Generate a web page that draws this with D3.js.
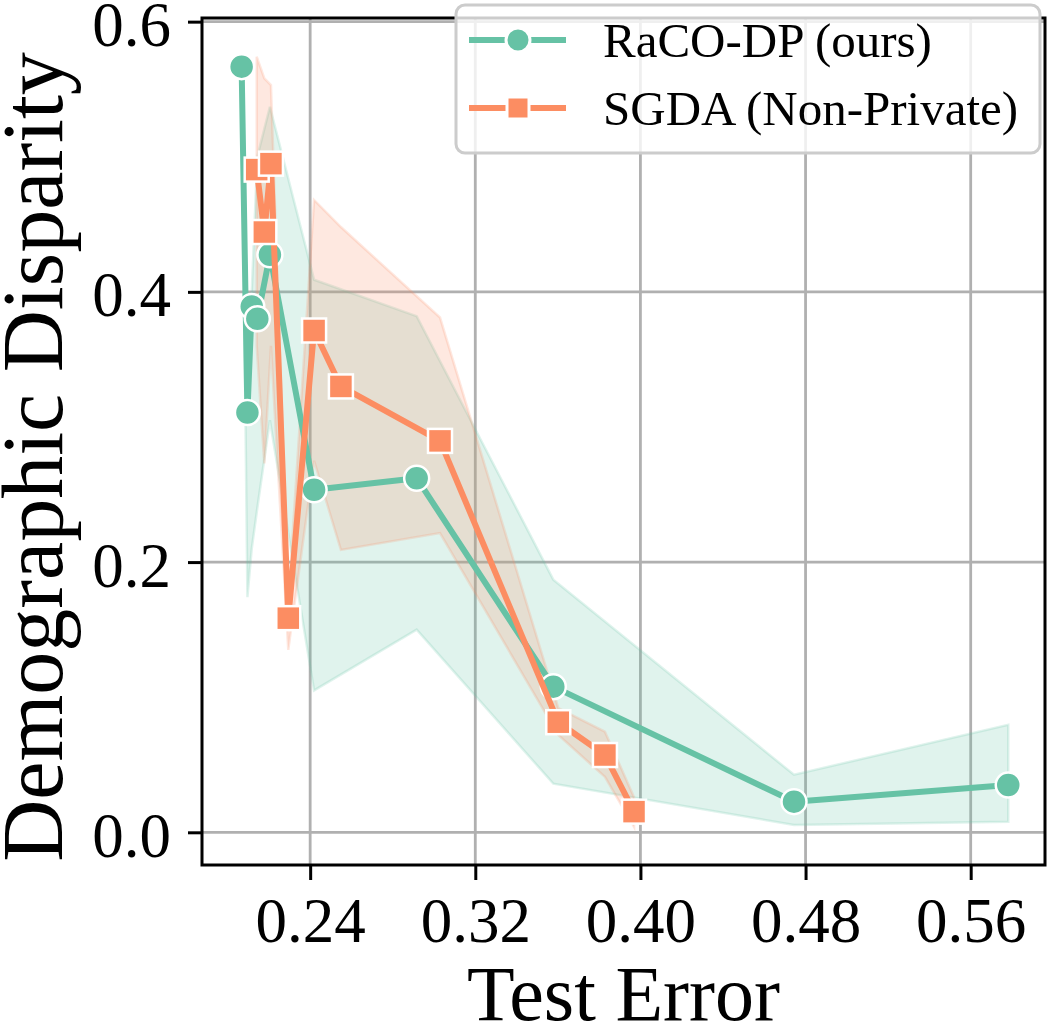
<!DOCTYPE html>
<html>
<head>
<meta charset="utf-8">
<script src="https://cdn.jsdelivr.net/npm/d3@7"></script>
<style>
  body { margin: 0; background: #fff; }
  svg { display: block; }
</style>
</head>
<body>
<svg id="chart"></svg>
<script>
// chart values
const xTicks = [0.24, 0.32, 0.40, 0.48, 0.56];
const yTicks = [0.0, 0.2, 0.4, 0.6];

// RaCO-DP (ours)
const racoX  = [0.2068, 0.2096, 0.2117, 0.2144, 0.2205, 0.2419, 0.2916, 0.3578, 0.4744, 0.5782];
const racoY  = [0.5667, 0.3107, 0.3892, 0.3801, 0.4275, 0.2535, 0.2621, 0.1078, 0.0227, 0.0350];
const racoLo = [0.5667, 0.174, 0.21, 0.240, 0.305, 0.105, 0.150, 0.036, 0.0054, 0.0078];
const racoHi = [0.5667, 0.31, 0.40, 0.50, 0.537, 0.409, 0.382, 0.187, 0.0426, 0.0796];

// SGDA (Non-Private)
const sgdaX  = [0.2141, 0.2178, 0.2210, 0.2294, 0.2419, 0.2549, 0.3029, 0.3602, 0.3828, 0.3969];
const sgdaY  = [0.4905, 0.4443, 0.4949, 0.1585, 0.3714, 0.3300, 0.2897, 0.0815, 0.0572, 0.0153];
const sgdaLo = [0.36, 0.273, 0.36, 0.135, 0.275, 0.209, 0.2215, 0.072, 0.041, 0.004];
const sgdaHi = [0.574, 0.558, 0.553, 0.17, 0.468, 0.448, 0.381, 0.092, 0.0745, 0.026];

const seriesNames = ["RaCO-DP (ours)", "SGDA (Non-Private)"];
const colors = ["#66c2a5", "#fc8d62"];

const width = 1049, height = 1030;
const plotLeft = 202, plotRight = 1045, plotTop = 18, plotBottom = 865;
const font = "Liberation Serif";

let svg = d3.select('#chart')
  .attr('width', width)
  .attr('height', height);

let xScale = d3.scaleLinear().domain([0.1876, 0.596]).range([plotLeft, plotRight]);
let yScale = d3.scaleLinear().domain([-0.0242, 0.6027]).range([plotBottom, plotTop]);

// grid
let grid = svg.append('g');
grid.selectAll('.vg').data(xTicks).enter().append('line')
  .attr('x1', d => xScale(d)).attr('x2', d => xScale(d))
  .attr('y1', plotTop).attr('y2', plotBottom)
  .style('stroke', '#b0b0b0').style('stroke-width', 2.8);
grid.selectAll('.hg').data(yTicks).enter().append('line')
  .attr('x1', plotLeft).attr('x2', plotRight)
  .attr('y1', d => yScale(d)).attr('y2', d => yScale(d))
  .style('stroke', '#b0b0b0').style('stroke-width', 2.8);

function rows(xs, ys, lo, hi) {
  return xs.map((x, i) => ({x: x, y: ys[i], lo: lo[i], hi: hi[i]}));
}
const series = [
  rows(racoX, racoY, racoLo, racoHi),
  rows(sgdaX, sgdaY, sgdaLo, sgdaHi)
];

// bands first (they sit under the lines)
let area = d3.area()
  .x(d => xScale(d.x))
  .y0(d => yScale(d.lo))
  .y1(d => yScale(d.hi));
series.forEach((data, i) => {
  svg.append('path')
    .datum(data)
    .attr('d', area)
    .style('fill', colors[i])
    .style('fill-opacity', 0.2)
    .style('stroke', colors[i])
    .style('stroke-opacity', 0.2)
    .style('stroke-width', 2.5);
});

let line = d3.line().x(d => xScale(d.x)).y(d => yScale(d.y));
series.forEach((data, i) => {
  svg.append('path')
    .datum(data)
    .attr('d', line)
    .style('fill', 'none')
    .style('stroke', colors[i])
    .style('stroke-width', 6)
    .style('stroke-linejoin', 'round');
  if (i === 0) {
    svg.append('g').selectAll('circle').data(data).enter().append('circle')
      .attr('cx', d => xScale(d.x))
      .attr('cy', d => yScale(d.y))
      .attr('r', 12.5)
      .style('fill', colors[i])
      .style('stroke', '#fff')
      .style('stroke-width', 2.5);
  } else {
    svg.append('g').selectAll('rect').data(data).enter().append('rect')
      .attr('x', d => xScale(d.x) - 12)
      .attr('y', d => yScale(d.y) - 12)
      .attr('width', 24).attr('height', 24)
      .style('fill', colors[i])
      .style('stroke', '#fff')
      .style('stroke-width', 2.5);
  }
});

// axes
let xAxis = svg.append('g')
  .attr('transform', `translate(0,${plotBottom})`)
  .call(d3.axisBottom(xScale).tickValues(xTicks).tickFormat(d3.format('.2f'))
    .tickSize(15).tickPadding(17).tickSizeOuter(0));
let yAxis = svg.append('g')
  .attr('transform', `translate(${plotLeft},0)`)
  .call(d3.axisLeft(yScale).tickValues(yTicks).tickFormat(d3.format('.1f'))
    .tickSize(14).tickPadding(17).tickSizeOuter(0));
[xAxis, yAxis].forEach(a => {
  a.select('.domain').remove();
  a.selectAll('line').style('stroke', '#000').style('stroke-width', 3);
  a.selectAll('text')
    .style('font-family', font)
    .style('font-size', '63px')
    .style('fill', '#000');
});
yAxis.selectAll('text').attr('dy', '0.38em');

// frame
svg.append('rect')
  .attr('x', plotLeft).attr('y', plotTop)
  .attr('width', plotRight - plotLeft).attr('height', plotBottom - plotTop)
  .style('fill', 'none')
  .style('stroke', '#000')
  .style('stroke-width', 3);

// axis labels
svg.append('text')
  .attr('x', (plotLeft + plotRight) / 2)
  .attr('y', 1020)
  .attr('text-anchor', 'middle')
  .style('font-family', font)
  .style('font-size', '78px')
  .text('Test Error');
svg.append('text')
  .attr('transform', 'translate(62,457) rotate(-90)')
  .attr('text-anchor', 'middle')
  .style('font-family', font)
  .style('font-size', '86px')
  .text('Demographic Disparity');

// legend
let legend = svg.append('g');
legend.append('rect')
  .attr('x', 456).attr('y', 5)
  .attr('width', 584).attr('height', 148)
  .attr('rx', 9)
  .style('fill', '#fff')
  .style('fill-opacity', 0.8)
  .style('stroke', '#cccccc')
  .style('stroke-width', 3);
const legendRows = [40, 108];
seriesNames.forEach((name, i) => {
  let cy = legendRows[i];
  legend.append('line')
    .attr('x1', 469).attr('x2', 566)
    .attr('y1', cy).attr('y2', cy)
    .style('stroke', colors[i])
    .style('stroke-width', 6);
  if (i === 0) {
    legend.append('circle')
      .attr('cx', 518).attr('cy', cy).attr('r', 12)
      .style('fill', colors[i])
      .style('stroke', '#fff').style('stroke-width', 3);
  } else {
    legend.append('rect')
      .attr('x', 507).attr('y', cy - 11)
      .attr('width', 22).attr('height', 22)
      .style('fill', colors[i])
      .style('stroke', '#fff').style('stroke-width', 3);
  }
  legend.append('text')
    .attr('x', 603).attr('y', cy + 17)
    .style('font-family', font)
    .style('font-size', '49px')
    .text(name);
});
</script>
</body>
</html>
